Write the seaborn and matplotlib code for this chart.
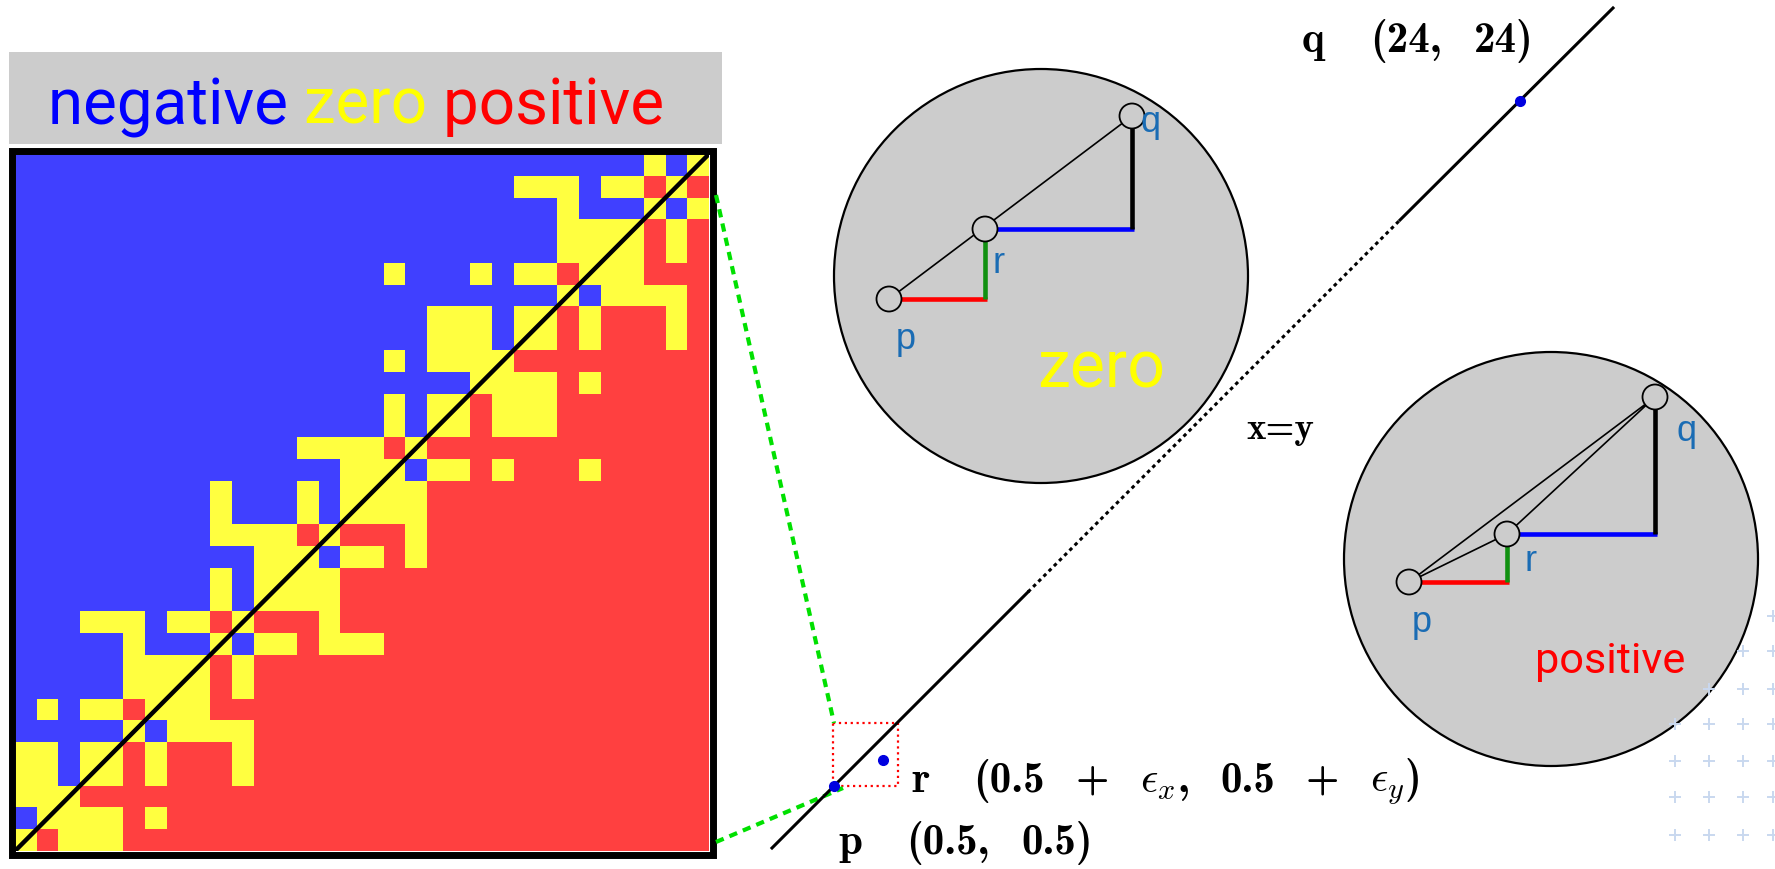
import numpy as np
import pandas as pd
import matplotlib
matplotlib.use("Agg")
import matplotlib.pyplot as plt
import seaborn as sns
from matplotlib.colors import ListedColormap
from matplotlib.patches import Circle, Rectangle

W, H = 1775, 870

# sign of orient(p, q, r) for every r of the grid, top row first
# B = negative, Y = zero, R = positive  (groups of 8 columns)
sign_rows = [
    "BBBBBBBB BBBBBBBB BBBBBBBB BBBBBYBY",
    "BBBBBBBB BBBBBBBB BBBBBBBY YYBYYRYR",
    "BBBBBBBB BBBBBBBB BBBBBBBB BYBBBYBY",
    "BBBBBBBB BBBBBBBB BBBBBBBB BYYYYRYR",
    "BBBBBBBB BBBBBBBB BBBBBBBB BYYYYRYR",
    "BBBBBBBB BBBBBBBB BYBBBYBY YRYYYRRR",
    "BBBBBBBB BBBBBBBB BBBBBBBB BYBYYYYR",
    "BBBBBBBB BBBBBBBB BBBYYYBY YRYRRRYR",
    "BBBBBBBB BBBBBBBB BBBYYYBY YRYRRRYR",
    "BBBBBBBB BBBBBBBB BYBYYYYR RRRRRRRR",
    "BBBBBBBB BBBBBBBB BBBBBYYY YRYRRRRR",
    "BBBBBBBB BBBBBBBB BYBYYRYY YRRRRRRR",
    "BBBBBBBB BBBBBBBB BYBYYRYY YRRRRRRR",
    "BBBBBBBB BBBBBYYY YRYRRRRR RRRRRRRR",
    "BBBBBBBB BBBBBBBY YYBYYRYR RRYRRRRR",
    "BBBBBBBB BYBBBYBY YYYRRRRR RRRRRRRR",
    "BBBBBBBB BYBBBYBY YYYRRRRR RRRRRRRR",
    "BBBBBBBB BYYYYRYR RRYRRRRR RRRRRRRR",
    "BBBBBBBB BBBYYYBY YRYRRRRR RRRRRRRR",
    "BBBBBBBB BYBYYYYR RRRRRRRR RRRRRRRR",
    "BBBBBBBB BYBYYYYR RRRRRRRR RRRRRRRR",
    "BBBYYYBY YRYRRRYR RRRRRRRR RRRRRRRR",
    "BBBBBYBB BYBYYRYY YRRRRRRR RRRRRRRR",
    "BBBBBYYY YRYRRRRR RRRRRRRR RRRRRRRR",
    "BBBBBYYY YRYRRRRR RRRRRRRR RRRRRRRR",
    "BYBYYRYY YRRRRRRR RRRRRRRR RRRRRRRR",
    "BBBBBYBY YYYRRRRR RRRRRRRR RRRRRRRR",
    "YYBYYRYR RRYRRRRR RRRRRRRR RRRRRRRR",
    "YYBYYRYR RRYRRRRR RRRRRRRR RRRRRRRR",
    "YYYRRRRR RRRRRRRR RRRRRRRR RRRRRRRR",
    "BYYYYRYR RRRRRRRR RRRRRRRR RRRRRRRR",
    "YRYYYRRR RRRRRRRR RRRRRRRR RRRRRRRR",
]
sign_value = {"B": -1, "Y": 0, "R": 1}
legend_words = ["negative", "zero", "positive"]

cell_colors = ["#4040ff", "#ffff40", "#ff4040"]
word_colors = ["#0000ff", "#ffff00", "#ff0000"]
label_blue = "#1a6cb4"
disk_gray = "#cccccc"

grid = pd.DataFrame([[sign_value[ch] for ch in row.replace(" ", "")] for row in sign_rows])
n = grid.shape[0]

plt.rcParams["mathtext.fontset"] = "cm"
cond = ["Roboto", "DejaVu Sans"]
sans = ["Liberation Sans", "DejaVu Sans"]
serif_bold = ["cmb10", "DejaVu Serif"]

fig = plt.figure(figsize=(W / 100, H / 100), dpi=100)

# --- heatmap of the predicate signs ---
ax_hm = fig.add_axes([15 / W, 1 - 852 / H, 694 / W, 697 / H])
sns.heatmap(grid, ax=ax_hm, cmap=ListedColormap(cell_colors), vmin=-1, vmax=1,
            cbar=False, xticklabels=False, yticklabels=False)
ax_hm.plot([0, n], [n, 0], color="black", lw=3.2, solid_capstyle="butt")
ax_hm.set_xlabel("")
ax_hm.set_ylabel("")

# --- overlay in pixel coordinates for the sketch ---
ax = fig.add_axes([0, 0, 1, 1])
ax.set_xlim(0, W)
ax.set_ylim(H, 0)
ax.axis("off")

fig.canvas.draw()
renderer = fig.canvas.get_renderer()


def fit_text(x, y, s, width, size0=30, **kw):
    # draw s, then scale the font so the text is `width` pixels wide
    t = ax.text(x, y, s, fontsize=size0, **kw)
    bb = t.get_window_extent(renderer=renderer)
    t.set_fontsize(size0 * width / bb.width)
    return t


def spread_text(x, y, tokens, width, size, first_gap=1.4, **kw):
    # fixed font size; tokens set on one baseline, gaps share the spare width
    items = [ax.text(x, y, tok, fontsize=size, va="baseline", ha="left", **kw)
             for tok in tokens]
    widths = [t.get_window_extent(renderer=renderer).width for t in items]
    unit = (width - sum(widths)) / (first_gap + len(tokens) - 2)
    cur = x
    for i, t in enumerate(items):
        t.set_x(cur)
        cur += widths[i] + unit * (first_gap if i == 0 else 1)


# faint "+" texture in the lower right corner of the slide
plus_x = [1675, 1709, 1743, 1773]
plus_y = [617, 652, 690, 725, 762, 798, 836]
for i, px in enumerate(plus_x):
    for j, py in enumerate(plus_y):
        if j >= 3 - i:
            ax.plot(px, py, marker="+", ms=9, mew=1.4, color="#c9d8ef")

# frame round the heatmap and the grey header
ax.add_patch(Rectangle((11.5, 151.5), 701, 704, fill=False, ec="black", lw=5))
ax.add_patch(Rectangle((9, 53), 713, 92, fc=disk_gray, ec="none"))

# header: the three words, measured one after another
t = fit_text(48, 124, " ".join(legend_words), 614, family=cond, va="baseline", ha="left")
size = t.get_fontsize()
t.remove()
x = 48
for word, color in zip(legend_words, word_colors):
    t = ax.text(x, 124, word + " ", color=color, fontsize=size, family=cond,
                va="baseline", ha="left")
    bb = t.get_window_extent(renderer=renderer)
    x = ax.transData.inverted().transform((bb.x1, bb.y0))[0]

# zoom lines from the heatmap to the little box round p and r
ax.plot([716, 834], [196, 724], color="#00e000", lw=3, ls=(0, (2, 1.5)))
ax.plot([716, 843], [843, 789], color="#00e000", lw=3, ls=(0, (2, 1.5)))
ax.add_patch(Rectangle((833, 724), 65, 63, fill=False, ec="red", lw=1.6, ls=":"))

# the line x = y, solid - dotted - solid
p_px, r_px, q_px = (834, 787), (883, 761), (1520, 102)
ax.plot([772, 1028], [849, 593], color="black", lw=2.2)
ax.plot([1028, 1400], [593, 221], color="black", lw=2.2, ls=(0, (1.2, 1.2)))
ax.plot([1400, 1613], [221, 9], color="black", lw=2.2)
ax.plot([p_px[0], r_px[0], q_px[0]], [p_px[1], r_px[1], q_px[1]], ls="none",
        marker="o", ms=7, color="#0000e0")

serif_size = 31
spread_text(1302, 52, ["q", "(24,", "24)"], 232, serif_size, family=serif_bold)
fit_text(1246, 430, "x=y", 68, family=serif_bold, va="center", ha="left")
spread_text(911, 792, ["r", "(0.5", "+", r"$\epsilon_x$,", "0.5", "+", r"$\epsilon_y$)"],
            509, serif_size, family=serif_bold)
spread_text(838, 854, ["p", "(0.5,", "0.5)"], 255, serif_size, family=serif_bold)

# two magnified views: r on the line (zero) and r just off it (positive)
disk_centers = [(1041, 277), (1551, 560)]
disk_radius = 207
disk_p = [(889, 300), (1409, 583)]
disk_r = [(985, 230), (1507, 535)]
disk_q = [(1132, 117), (1655, 398)]
disk_words = ["zero", "positive"]
disk_word_xy = [(1101, 370), (1610, 662)]
disk_word_width = [128, 150]
disk_word_colors = [word_colors[1], word_colors[2]]
label_offsets = [{"p": (17, 40), "r": (14, 34), "q": (19, 5)},
                 {"p": (13, 40), "r": (24, 27), "q": (32, 34)}]

for k in range(2):
    ax.add_patch(Circle(disk_centers[k], disk_radius, fc=disk_gray, ec="black", lw=1.6))
    p, r, q = disk_p[k], disk_r[k], disk_q[k]
    if k == 0:
        ax.plot([p[0], q[0]], [p[1], q[1]], color="black", lw=1.2)
    else:
        ax.plot([p[0], q[0], r[0], p[0]], [p[1], q[1], r[1], p[1]], color="black", lw=1.2)
    ax.plot([p[0], r[0] + 2], [p[1], p[1]], color="red", lw=3.3, solid_capstyle="butt")
    ax.plot([r[0], r[0]], [p[1], r[1]], color="#109010", lw=3.3, solid_capstyle="butt")
    ax.plot([r[0], q[0] + 2], [r[1], r[1]], color="blue", lw=3.3, solid_capstyle="butt")
    ax.plot([q[0], q[0]], [r[1], q[1]], color="black", lw=3.3, solid_capstyle="butt")
    for name, pt in zip("prq", (p, r, q)):
        ax.add_patch(Circle(pt, 12.5, fc=disk_gray, ec="black", lw=1.3, zorder=5))
        dx, dy = label_offsets[k][name]
        ax.text(pt[0] + dx, pt[1] + dy, name, color=label_blue, fontsize=26,
                family=sans, ha="center", va="center", zorder=6)
    tw = fit_text(0, 0, disk_words[k], disk_word_width[k], family=cond,
                  color=disk_word_colors[k], ha="center", va="center", zorder=6)
    tw.set_position(disk_word_xy[k])

fig.savefig("out.png", dpi=100)
